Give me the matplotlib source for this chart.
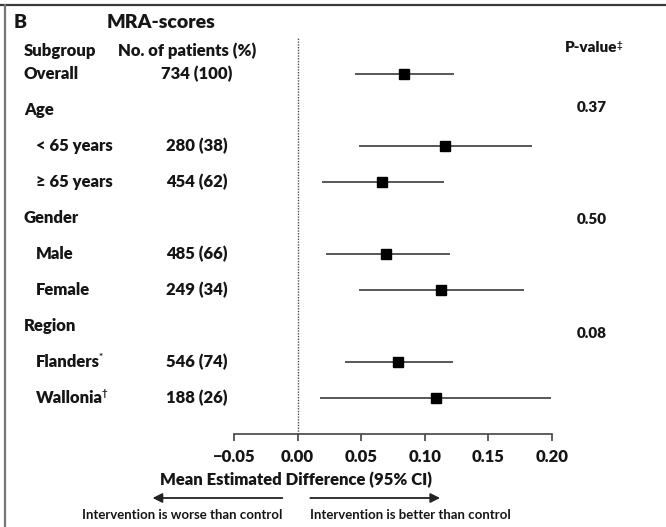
import matplotlib
matplotlib.use('Agg')
import matplotlib.pyplot as plt
import matplotlib.transforms as mtransforms
from matplotlib.lines import Line2D

plt.rcParams['font.family'] = ['Lato', 'DejaVu Sans']

# subgroup rows, top to bottom (None = group header, no estimate)
labels = ['Overall', 'Age', '< 65 years', '\u2265 65 years', 'Gender', 'Male', 'Female',
          'Region', 'Flanders', 'Wallonia']
counts = ['734 (100)', '', '280 (38)', '454 (62)', '', '485 (66)', '249 (34)',
          '', '546 (74)', '188 (26)']
est = [0.084, None, 0.116, 0.066, None, 0.0695, 0.113, None, 0.079, 0.1086]
lo = [0.045, None, 0.048, 0.0195, None, 0.022, 0.048, None, 0.037, 0.018]
hi = [0.123, None, 0.184, 0.115, None, 0.120, 0.178, None, 0.122, 0.199]
pvals = ['0.37', '0.50', '0.08']
ticks = [-0.05, 0.00, 0.05, 0.10, 0.15, 0.20]

W, H = 666, 527
fig = plt.figure(figsize=(W / 100, H / 100), dpi=100)
ax = fig.add_axes([234 / W, 1 - 434 / H, 318 / W, 396 / H])
ax.set_xlim(-0.05, 0.20)
ax.set_ylim(len(labels), -1)

ink = '#161616'
wt = 'heavy'
for i in range(len(labels)):
    if est[i] is None:
        continue
    ax.plot([lo[i], hi[i]], [i, i], color='#2a2a2a', lw=1.1, solid_capstyle='butt')
    ax.plot(est[i], i, 's', color='black', ms=7.2)

ax.axvline(0, color='#4a4a4a', lw=1.0, ls=(0, (1, 1)))

for s in ['top', 'right', 'left']:
    ax.spines[s].set_visible(False)
ax.spines['bottom'].set_bounds(-0.05, 0.20)
ax.spines['bottom'].set_color('#444444')
ax.spines['bottom'].set_linewidth(1.2)
ax.set_yticks([])
ax.set_xticks(ticks)
ax.set_xticklabels(['\u22120.05', '0.00', '0.05', '0.10', '0.15', '0.20'])
ax.tick_params(axis='x', direction='out', length=5, width=1.2, color='#444444',
               labelsize=12, labelcolor=ink, pad=6)
for t in ax.get_xticklabels():
    t.set_fontweight(wt)

# left-hand table columns
rows = mtransforms.blended_transform_factory(fig.transFigure, ax.transData)
indent = [False, False, True, True, False, True, True, False, True, True]
for i, lab in enumerate(labels):
    x = 36 / W if indent[i] else 24 / W
    fig.text(x, i, lab, transform=rows, ha='left', va='center',
             fontsize=12, fontweight=wt, color=ink)
    if counts[i]:
        fig.text(197 / W, i, counts[i], transform=rows, ha='center', va='center',
                 fontsize=12, fontweight=wt, color=ink)

fig.text(14 / W, 1 - 22 / H, 'B', ha='left', va='center', fontsize=14,
         fontweight='heavy', color=ink)
fig.text(107 / W, 1 - 22 / H, 'MRA-scores', ha='left', va='center', fontsize=14,
         fontweight='heavy', color=ink)
fig.text(24 / W, 1 - 51 / H, 'Subgroup', ha='left', va='center', fontsize=12,
         fontweight=wt, color=ink)
fig.text(118 / W, 1 - 51 / H, 'No. of patients (%)', ha='left', va='center',
         fontsize=12, fontweight=wt, color=ink)
fig.text(591 / W, 1 - 48 / H, 'P-value', ha='center', va='center',
         fontsize=11, fontweight=wt, color=ink)

# p-values sit between the group header and its first subgroup
for p, yrow in zip(pvals, [0.92, 4.05, 7.2]):
    fig.text(592 / W, yrow, p, transform=rows, ha='center', va='center',
             fontsize=11, fontweight=wt, color=ink)

fig.text(296 / W, 1 - 480 / H, 'Mean Estimated Difference (95% CI)', ha='center',
         va='center', fontsize=12, fontweight='heavy', color=ink)

# direction arrows under the axis
arr = mtransforms.blended_transform_factory(ax.transData, fig.transFigure)
ya = 1 - 498 / H
ax.annotate('', xy=(-0.114, ya), xytext=(-0.012, ya), xycoords=arr, textcoords=arr,
            arrowprops=dict(arrowstyle='-|>', color='#222222', lw=1.3,
                            mutation_scale=14, shrinkA=0, shrinkB=0))
ax.annotate('', xy=(0.112, ya), xytext=(0.010, ya), xycoords=arr, textcoords=arr,
            arrowprops=dict(arrowstyle='-|>', color='#222222', lw=1.3,
                            mutation_scale=14, shrinkA=0, shrinkB=0))
yt = 1 - 515 / H
ax.text(-0.012, yt, 'Intervention is worse than control', transform=arr, ha='right',
        va='center', fontsize=9.5, fontweight='bold', color=ink)
ax.text(0.010, yt, 'Intervention is better than control', transform=arr, ha='left',
        va='center', fontsize=9.5, fontweight='bold', color=ink)

# superscript marks after some labels
fig.canvas.draw()
r = fig.canvas.get_renderer()
for t in list(fig.texts):
    mark = {'Flanders': '*', 'Wallonia': '\u2020', 'P-value': '\u2021'}.get(t.get_text())
    if mark:
        bb = t.get_window_extent(r)
        fig.text((bb.x1 - 1) / W, (bb.y1 + 1) / H, mark, ha='left', va='top',
                 fontsize=7, fontweight='bold', color=ink)

# frame lines along top and left edge
fig.add_artist(Line2D([0, 1], [1 - 4.5 / H, 1 - 4.5 / H], transform=fig.transFigure,
                      color='#3a3a3a', lw=1.6))
fig.add_artist(Line2D([4.5 / W, 4.5 / W], [0, 1 - 4.5 / H], transform=fig.transFigure,
                      color='#777777', lw=1.6))

fig.savefig('out.png', dpi=100)
